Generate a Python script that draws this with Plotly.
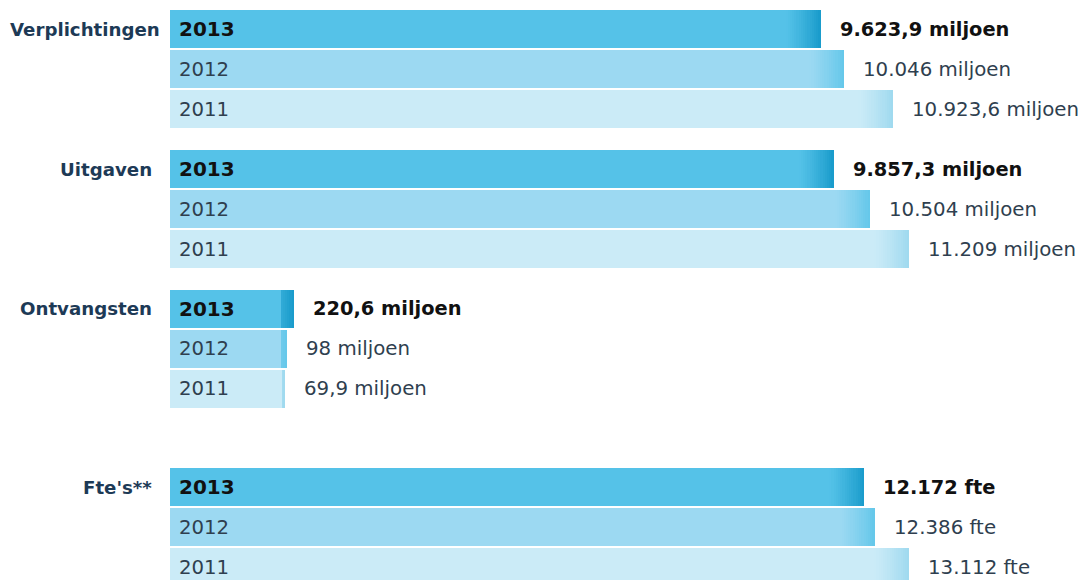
import plotly.graph_objects as go

# ---------------- data ----------------
categories = ["Verplichtingen", "Uitgaven", "Ontvangsten", "Fte's**"]
years = ["2013", "2012", "2011"]
verplichtingen = [9623.9, 10046.0, 10923.6]
uitgaven = [9857.3, 10504.0, 11209.0]
ontvangsten = [220.6, 98.0, 69.9]
fte = [12172.0, 12386.0, 13112.0]
units = ["miljoen", "miljoen", "miljoen", "fte"]
series = [verplichtingen, uitgaven, ontvangsten, fte]

# ---------------- style / layout constants ----------------
W, H = 1088, 580
FONT = "DejaVu Sans, Verdana, sans-serif"
ZERO_PX = 281.5          # pixel where value 0 sits
MAX_PX = 909.3           # pixel where the largest value of a scale ends
BAR_START_PX = 170.0     # left edge of every bar
GRAD_PX = 35.0           # width of the dark gradient at the bar end
ROW_PITCH = 40.0
BAR_H = 38.5
GROUP_TOP = [29.2, 169.0, 308.8, 487.0]
MAIN_COL = ["#55c2e8", "#9cd9f2", "#cbebf7"]
END_COL = ["#189bcb", "#64c7ea", "#9ed9ef"]
LABEL_COL = "#1d3a56"
BOLD_TXT = "#111111"
REG_TXT = "#2f3f4f"
N_SEG = 16

max_m = max(max(verplichtingen), max(uitgaven), max(ontvangsten))
max_f = max(fte)
scale_m = (MAX_PX - ZERO_PX) / max_m
scale_f = (MAX_PX - ZERO_PX) / max_f


def fmt_nl(v):
    if abs(v - round(v)) < 1e-9:
        s = f"{int(round(v)):,}".replace(",", ".")
    else:
        s = f"{v:,.1f}".replace(",", "X").replace(".", ",").replace("X", ".")
    return s


def hex2rgb(h):
    h = h.lstrip("#")
    return tuple(int(h[i:i + 2], 16) for i in (0, 2, 4))


def mix(c1, c2, t):
    a, b = hex2rgb(c1), hex2rgb(c2)
    return "rgb(%d,%d,%d)" % tuple(round(a[i] + (b[i] - a[i]) * t) for i in range(3))


fig = go.Figure()
annotations = []

axis_groups = {"x": [], "x2": []}
for gi, (cat, vals, unit) in enumerate(zip(categories, series, units)):
    axis = "x2" if unit == "fte" else "x"
    scale = scale_f if unit == "fte" else scale_m
    for k, v in enumerate(vals):
        yc = GROUP_TOP[gi] + k * ROW_PITCH
        axis_groups[axis].append((v, yc, k, scale))
        bold = k == 0
        # value label
        txt = f"{fmt_nl(v)} {unit}"
        annotations.append(dict(
            x=v, y=yc, xref=axis, yref="y", xanchor="left", yanchor="middle",
            xshift=17, showarrow=False,
            text=f"<b>{txt}</b>" if bold else txt,
            font=dict(family=FONT, size=19.4 if bold else 19.8,
                      color=BOLD_TXT if bold else REG_TXT)))
        # year label inside bar
        annotations.append(dict(
            x=(BAR_START_PX + 7) / W, y=yc, xref="paper", yref="y",
            xanchor="left", yanchor="middle", showarrow=False,
            text=f"<b>{years[k]}</b>" if bold else years[k],
            font=dict(family=FONT, size=20 if bold else 19.7,
                      color=BOLD_TXT if bold else REG_TXT)))
    # category label
    annotations.append(dict(
        x=(8 if gi == 0 else 154) / W, y=GROUP_TOP[gi], xref="paper", yref="y",
        xanchor="left" if gi == 0 else "right", yanchor="middle", showarrow=False,
        text=f"<b>{cat}</b>",
        font=dict(family=FONT, size=18.2, color=LABEL_COL)))

for axis, items in axis_groups.items():
    if not items:
        continue
    scale = items[0][3]
    to_data = lambda px: (px - ZERO_PX) / scale
    ys = [it[1] for it in items]
    # main body of each bar
    bases, lens, cols = [], [], []
    for v, yc, k, _ in items:
        end_px = ZERO_PX + v * scale
        body_end = max(end_px - GRAD_PX, ZERO_PX)
        b0 = to_data(BAR_START_PX)
        bases.append(b0)
        lens.append(to_data(body_end) - b0)
        cols.append(MAIN_COL[k])
    fig.add_trace(go.Bar(orientation="h", y=ys, x=lens, base=bases,
                         width=BAR_H, marker=dict(color=cols, line=dict(width=0)),
                         xaxis=axis, yaxis="y", hoverinfo="skip", showlegend=False))
    # gradient end segments
    for s in range(N_SEG):
        bases, lens, cols = [], [], []
        for v, yc, k, _ in items:
            end_px = ZERO_PX + v * scale
            g0 = end_px - GRAD_PX
            lo = g0 + GRAD_PX * s / N_SEG
            hi = g0 + GRAD_PX * (s + 1) / N_SEG + 0.4
            hi = min(hi, end_px)
            t = ((s + 0.5) / N_SEG) ** 1.2
            lo_c = max(lo, ZERO_PX)
            if hi <= lo_c:
                lo_c = hi
            bases.append(to_data(lo_c))
            lens.append(to_data(hi) - to_data(lo_c))
            cols.append(mix(MAIN_COL[k], END_COL[k], t))
        fig.add_trace(go.Bar(orientation="h", y=ys, x=lens, base=bases,
                             width=BAR_H, marker=dict(color=cols, line=dict(width=0)),
                             xaxis=axis, yaxis="y", hoverinfo="skip", showlegend=False))

fig.update_layout(
    width=W, height=H, margin=dict(l=0, r=0, t=0, b=0),
    paper_bgcolor="white", plot_bgcolor="white",
    barmode="overlay", bargap=0,
    xaxis=dict(range=[-ZERO_PX / scale_m, (W - ZERO_PX) / scale_m], visible=False, fixedrange=True),
    xaxis2=dict(range=[-ZERO_PX / scale_f, (W - ZERO_PX) / scale_f], visible=False,
                overlaying="x", anchor="y", fixedrange=True),
    yaxis=dict(range=[H, 0], visible=False, fixedrange=True),
    annotations=annotations,
    showlegend=False,
    hovermode=False,
)

fig.write_html("out.html", config={"displayModeBar": False},
               post_script="document.body.style.margin='0';document.body.style.overflow='hidden';")
